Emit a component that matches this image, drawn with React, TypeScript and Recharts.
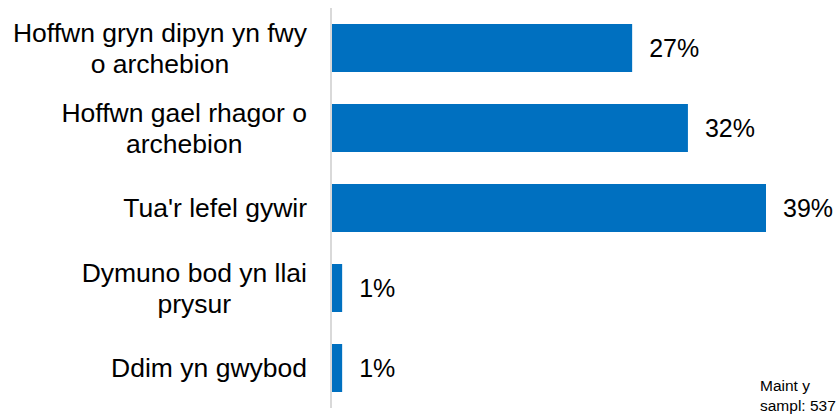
import { Bar, BarChart, LabelList, XAxis, YAxis } from 'recharts';

const categories = [
  'Hoffwn gryn dipyn yn fwy\no archebion',
  'Hoffwn gael rhagor o\narchebion',
  "Tua'r lefel gywir",
  'Dymuno bod yn llai\nprysur',
  'Ddim yn gwybod',
];
const values = [27, 32, 39, 1, 1];
const noteLines = ['Maint y', 'sampl: 537'];

const data = categories.map((name, i) => ({ name, value: values[i] }));

const FONT = '"Liberation Sans", Arial, sans-serif';
const TICK_SIZE = 26.5;
const LINE_H = 31;

let ctx: CanvasRenderingContext2D | null = null;
const measure = (text: string) => {
  if (!ctx) {
    ctx = document.createElement('canvas').getContext('2d');
  }
  if (!ctx) return text.length * TICK_SIZE * 0.5;
  ctx.font = `${TICK_SIZE}px ${FONT}`;
  return ctx.measureText(text).width;
};

const CategoryTick = (props: any) => {
  const { x, y, payload } = props;
  const lines: string[] = String(payload.value).split('\n');
  const blockW = Math.max(...lines.map(measure));
  const cx = x - blockW / 2;
  const top = y - ((lines.length - 1) * LINE_H) / 2;
  return (
    <text x={cx} y={top} textAnchor="middle" fontSize={TICK_SIZE} fontFamily={FONT} fill="#000">
      {lines.map((line, i) => (
        <tspan key={i} x={cx} y={top + i * LINE_H} dy="0.355em">
          {line}
        </tspan>
      ))}
    </text>
  );
};

const App = () => (
  <div style={{ position: 'absolute', left: 0, top: 0, width: 838, height: 420, overflow: 'hidden', background: '#fff' }}>
    <BarChart
      width={838}
      height={420}
      data={data}
      layout="vertical"
      margin={{ top: 8, right: 72, bottom: 12, left: 0 }}
    >
      <XAxis type="number" domain={[0, 39]} hide />
      <YAxis
        type="category"
        dataKey="name"
        width={331}
        axisLine={{ stroke: '#d9d9d9', strokeWidth: 2 }}
        tickLine={false}
        tickSize={0}
        tickMargin={24}
        tick={<CategoryTick />}
        interval={0}
      />
      <Bar dataKey="value" fill="#0070C0" barSize={48} isAnimationActive={false}>
        <LabelList
          dataKey="value"
          position="right"
          offset={17}
          formatter={(v: any) => `${v}%`}
          style={{ fontSize: 25, fontFamily: FONT, fill: '#000' }}
        />
      </Bar>
    </BarChart>
    <div
      style={{
        position: 'absolute',
        left: 760,
        top: 376,
        fontFamily: FONT,
        fontSize: 15.5,
        lineHeight: '20px',
        color: '#000',
        whiteSpace: 'nowrap',
      }}
    >
      {noteLines.map((l) => (
        <div key={l}>{l}</div>
      ))}
    </div>
  </div>
);

export default App;
